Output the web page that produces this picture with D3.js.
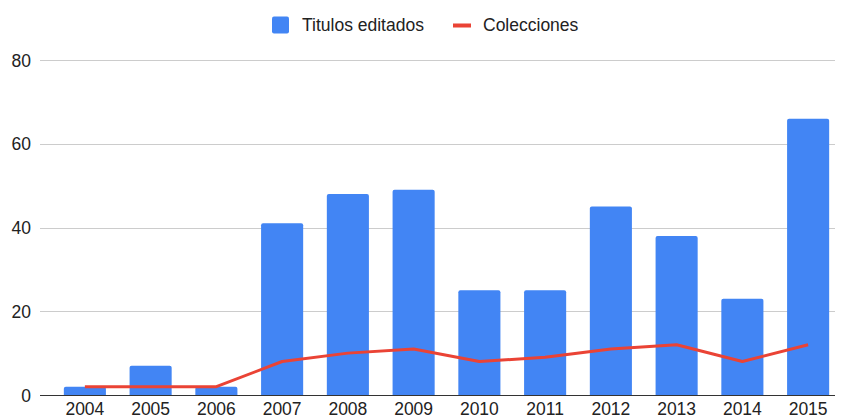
<!DOCTYPE html>
<html>
<head>
<meta charset="utf-8">
<script src="https://cdn.jsdelivr.net/npm/d3@7"></script>
<style>
  body { margin: 0; background: #fff; }
  svg { display: block; font-family: "Liberation Sans", Arial, sans-serif; }
</style>
</head>
<body>
<script>
var years = ["2004", "2005", "2006", "2007", "2008", "2009", "2010", "2011", "2012", "2013", "2014", "2015"];
var titulos = [2, 7, 2, 41, 48, 49, 25, 25, 45, 38, 23, 66];
var colecciones = [2, 2, 2, 8, 10, 11, 8, 9, 11, 12, 8, 12];
var yTicks = [0, 20, 40, 60, 80];

var width = 842, height = 419;

var svg = d3.select("body").append("svg")
  .attr("width", width)
  .attr("height", height)
  .attr("viewBox", [0, 0, width, height]);

var x = d3.scaleBand()
  .domain(years)
  .range([52, 841])
  .paddingInner(0.36)
  .paddingOuter(0.18);

var y = d3.scaleLinear()
  .domain([0, 80])
  .range([395, 60]);

// grid
svg.append("g")
  .selectAll("line")
  .data(yTicks.filter(d => d > 0))
  .join("line")
    .attr("x1", 40)
    .attr("x2", 835)
    .attr("y1", d => Math.round(y(d)) + 0.5)
    .attr("y2", d => Math.round(y(d)) + 0.5)
    .attr("stroke", "#cccccc")
    .attr("stroke-width", 1);

// y labels
svg.append("g")
  .selectAll("text")
  .data(yTicks)
  .join("text")
    .attr("x", 31)
    .attr("y", d => y(d) + 6.5)
    .attr("text-anchor", "end")
    .attr("font-size", 17.5)
    .attr("fill", "#222")
    .text(d => d);

// bars, slightly rounded tops
var r = 2;
svg.append("g")
  .selectAll("path")
  .data(years)
  .join("path")
    .attr("fill", "#4285f4")
    .attr("d", (d, i) => {
      var x0 = x(d), x1 = x(d) + x.bandwidth(), y0 = y(0), y1 = y(titulos[i]);
      return `M${x0},${y0}V${y1 + r}Q${x0},${y1} ${x0 + r},${y1}H${x1 - r}Q${x1},${y1} ${x1},${y1 + r}V${y0}Z`;
    });

// baseline
svg.append("line")
  .attr("x1", 40)
  .attr("x2", 835)
  .attr("y1", y(0) + 0.5)
  .attr("y2", y(0) + 0.5)
  .attr("stroke", "#333")
  .attr("stroke-width", 1);

// line
var line = d3.line()
  .x((d, i) => x(years[i]) + x.bandwidth() / 2)
  .y(d => y(d));

svg.append("path")
  .datum(colecciones)
  .attr("fill", "none")
  .attr("stroke", "#ea4335")
  .attr("stroke-width", 3)
  .attr("stroke-linejoin", "round")
  .attr("d", line);

// x labels
svg.append("g")
  .selectAll("text")
  .data(years)
  .join("text")
    .attr("x", d => x(d) + x.bandwidth() / 2)
    .attr("y", 415)
    .attr("text-anchor", "middle")
    .attr("font-size", 17.5)
    .attr("fill", "#222")
    .text(d => d);

// legend
var legend = svg.append("g");
legend.append("rect")
  .attr("x", 272).attr("y", 16.5)
  .attr("width", 17).attr("height", 17)
  .attr("rx", 2)
  .attr("fill", "#4285f4");
legend.append("text")
  .attr("x", 302).attr("y", 31)
  .attr("font-size", 17.5)
  .attr("fill", "#222")
  .text("Titulos editados");
legend.append("rect")
  .attr("x", 453).attr("y", 23.5)
  .attr("width", 18).attr("height", 4)
  .attr("fill", "#ea4335");
legend.append("text")
  .attr("x", 483).attr("y", 31)
  .attr("font-size", 17.5)
  .attr("fill", "#222")
  .text("Colecciones");
</script>
</body>
</html>
